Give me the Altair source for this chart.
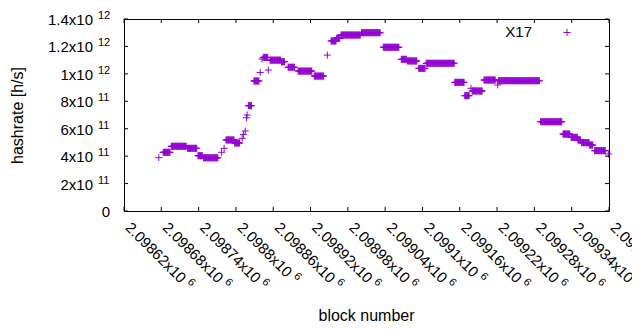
import altair as alt
import pandas as pd

# plateaus: first block, last block, hashrate in 1e11 h/s
seg_start = [2098676, 2098683, 2098696, 2098722, 2098739, 2098748, 2098777, 2098781,
             2098784, 2098798, 2098810, 2098812, 2098815, 2098817, 2098818, 2098820,
             2098829, 2098839, 2098842, 2098844, 2098852, 2098855, 2098873, 2098884,
             2098900, 2098926, 2098947, 2098953, 2098962, 2098969, 2099002, 2099037,
             2099066, 2099076, 2099094, 2099106, 2099152, 2099168, 2099178, 2099180,
             2099199, 2099221, 2099222, 2099290, 2099326, 2099339, 2099350, 2099356,
             2099369, 2099377, 2099399]
seg_end = [2098676, 2098694, 2098720, 2098737, 2098746, 2098771, 2098777, 2098781,
           2098797, 2098806, 2098810, 2098812, 2098815, 2098817, 2098818, 2098825,
           2098837, 2098839, 2098842, 2098851, 2098852, 2098872, 2098878, 2098894,
           2098922, 2098941, 2098947, 2098961, 2098967, 2099000, 2099032, 2099062,
           2099074, 2099091, 2099104, 2099151, 2099167, 2099175, 2099178, 2099196,
           2099217, 2099221, 2099288, 2099324, 2099337, 2099349, 2099354, 2099368,
           2099374, 2099394, 2099399]
seg_value = [3.89, 4.28, 4.72, 4.57, 4.03, 3.88, 4.28, 4.57,
             5.18, 4.96, 5.30, 5.59, 5.83, 6.80, 7.00, 7.68,
             9.48, 10.10, 11.08, 11.20, 10.28, 11.00, 10.88, 10.48,
             10.20, 9.84, 11.37, 12.40, 12.60, 12.83, 13.00, 11.94,
             11.06, 10.94, 10.40, 10.77, 9.38, 8.41, 8.95, 8.75,
             9.55, 9.19, 9.50, 6.51, 5.61, 5.37, 5.18, 4.98,
             4.81, 4.40, 4.16]

x_ticks = [2098620, 2098680, 2098740, 2098800, 2098860, 2098920, 2098980,
           2099040, 2099100, 2099160, 2099220, 2099280, 2099340, 2099400]
x_mant = ["2.09862x10", "2.09868x10", "2.09874x10", "2.0988x10", "2.09886x10",
          "2.09892x10", "2.09898x10", "2.09904x10", "2.0991x10", "2.09916x10",
          "2.09922x10", "2.09928x10", "2.09934x10", "2.0994x10"]
x_exp = "6"
y_ticks = [0, 2e11, 4e11, 6e11, 8e11, 1e12, 1.2e12, 1.4e12]
y_mant = ["0", "2x10", "4x10", "6x10", "8x10", "1x10", "1.2x10", "1.4x10"]
y_exp = ["", "11", "11", "11", "11", "12", "12", "12"]
series_name = ["X17"]

blocks, rates = [], []
for s, e, v in zip(seg_start, seg_end, seg_value):
    for b in range(s, e + 1):
        blocks.append(b)
        rates.append(v * 1e11)
df = pd.DataFrame({"block": blocks, "hashrate": rates})

W, H = 485, 192
PURPLE = "#9400d3"
FONT = "Liberation Sans"
FS = 15      # tick labels / legend
FS_T = 16    # axis titles
FS_E = 11    # exponents
PLUS = "M-1,0L1,0M0,-1L0,1"

xscale = alt.Scale(domain=[2098620, 2099400], nice=False, zero=False)
yscale = alt.Scale(domain=[0, 1.4e12], nice=False)

xaxis = alt.Axis(values=x_ticks, title="block number", grid=False, ticks=False, domain=False,
                 labels=False,
                 titleFont=FONT, titleFontSize=FS_T, titleFontWeight="normal", titleColor="black",
                 titleX=242, titleY=104, titleBaseline="middle", titleAlign="center")
yaxis = alt.Axis(values=y_ticks, title="hashrate [h/s]", grid=False, ticks=False, domain=False,
                 labels=False,
                 titleFont=FONT, titleFontSize=FS_T, titleFontWeight="normal", titleColor="black",
                 titleX=-107, titleY=96, titleAngle=-90, titleBaseline="middle", titleAlign="center")

points = alt.Chart(df).mark_point(
    shape=PLUS, filled=False, size=49, strokeWidth=1, color=PURPLE, opacity=1
).encode(
    x=alt.X("block:Q", scale=xscale, axis=xaxis),
    y=alt.Y("hashrate:Q", scale=yscale, axis=yaxis),
)

xt = pd.DataFrame({"block": x_ticks, "mant": x_mant, "exp": x_exp})
xt["long"] = xt["mant"].str.len() >= 10
yt = pd.DataFrame({"hashrate": y_ticks, "mant": y_mant, "exp": y_exp})

tick_b = alt.Chart(xt).mark_rule(color="black", strokeWidth=1).encode(
    x=alt.X("block:Q", scale=xscale, axis=xaxis), y=alt.value(H), y2=alt.value(H - 4))
tick_t = alt.Chart(xt).mark_rule(color="black", strokeWidth=1).encode(
    x=alt.X("block:Q", scale=xscale, axis=xaxis), y=alt.value(0), y2=alt.value(4))
tick_l = alt.Chart(yt).mark_rule(color="black", strokeWidth=1).encode(
    y=alt.Y("hashrate:Q", scale=yscale, axis=yaxis), x=alt.value(0), x2=alt.value(4))
tick_r = alt.Chart(yt).mark_rule(color="black", strokeWidth=1).encode(
    y=alt.Y("hashrate:Q", scale=yscale, axis=yaxis), x=alt.value(W), x2=alt.value(W - 4))

# rotated x tick labels: mantissa + raised exponent
x_lab = alt.Chart(xt).mark_text(
    angle=45, align="left", baseline="middle", font=FONT, fontSize=FS, color="black", dx=5.7
).encode(x=alt.X("block:Q", scale=xscale, axis=xaxis), y=alt.value(H + 10), text="mant:N")
x_exp_long = alt.Chart(xt).transform_filter("datum.long").mark_text(
    angle=45, align="left", baseline="middle", font=FONT, fontSize=FS_E, color="black",
    dx=88, dy=-4
).encode(x=alt.X("block:Q", scale=xscale, axis=xaxis), y=alt.value(H + 10), text="exp:N")
x_exp_short = alt.Chart(xt).transform_filter("!datum.long").mark_text(
    angle=45, align="left", baseline="middle", font=FONT, fontSize=FS_E, color="black",
    dx=80, dy=-4
).encode(x=alt.X("block:Q", scale=xscale, axis=xaxis), y=alt.value(H + 10), text="exp:N")

# y tick labels: mantissa right-aligned, exponent raised to its right
y_lab = alt.Chart(yt).transform_filter("datum.hashrate > 0").mark_text(
    align="right", baseline="middle", font=FONT, fontSize=FS, color="black", dy=1
).encode(y=alt.Y("hashrate:Q", scale=yscale, axis=yaxis), x=alt.value(-31), text="mant:N")
y_zero = alt.Chart(yt).transform_filter("datum.hashrate == 0").mark_text(
    align="right", baseline="middle", font=FONT, fontSize=FS, color="black", dy=1
).encode(y=alt.Y("hashrate:Q", scale=yscale, axis=yaxis), x=alt.value(-14), text="mant:N")
y_exp_lab = alt.Chart(yt).transform_filter("datum.hashrate > 0").mark_text(
    align="left", baseline="middle", font=FONT, fontSize=FS_E, color="black", dy=-3
).encode(y=alt.Y("hashrate:Q", scale=yscale, axis=yaxis), x=alt.value(-26), text="exp:N")

leg = pd.DataFrame({"name": series_name})
leg_text = alt.Chart(leg).mark_text(
    align="right", baseline="middle", font=FONT, fontSize=FS, color="black"
).encode(text="name:N", x=alt.value(408), y=alt.value(12.5))
leg_sym = alt.Chart(leg).mark_point(
    shape=PLUS, filled=False, size=49, strokeWidth=1, color=PURPLE, opacity=1
).encode(x=alt.value(443), y=alt.value(13.5))

chart = alt.layer(points, tick_b, tick_t, tick_l, tick_r, x_lab, x_exp_long, x_exp_short,
                  y_lab, y_zero, y_exp_lab, leg_text, leg_sym).properties(
    width=W, height=H,
    autosize=alt.AutoSizeParams(type="none"),
    padding={"left": 116, "top": 11, "right": 23, "bottom": 111},
).configure_view(stroke="black", strokeWidth=1)

chart.save("out.html", embed_options={"renderer": "svg", "actions": False})
